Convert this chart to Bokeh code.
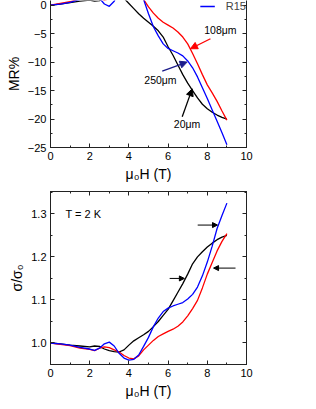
from bokeh.plotting import figure
from bokeh.layouts import column
from bokeh.models import (Range1d, LinearAxis, SingleIntervalTicker, Label, Arrow,
                          NormalHead, Legend, LegendItem, PrintfTickFormatter)
from bokeh.embed import file_html
from bokeh.resources import INLINE

# ---------------- data ----------------
H = [0, 0.5, 1.0, 1.5, 2.0, 2.25, 2.5, 2.75, 3.0, 3.25, 3.5, 3.75, 4.0, 4.25, 4.5, 4.75,
     5.0, 5.25, 5.5, 5.75, 6.0, 6.25, 6.5, 6.75, 7.0, 7.25, 7.5, 7.75, 8.0, 8.25, 8.5, 8.75, 9.0]

# (a) MR%
mr_20um = [0, 0.2, 0.45, 0.7, 0.9, 0.7, 0.8, 1.4, 1.8, 2.0, 2.1, 1.2, 0.3, -0.6, -1.5, -2.3,
           -3.0, -3.7, -4.5, -5.6, -7.3, -8.8, -10.5, -12.2, -13.7, -15.0, -16.3, -17.4, -18.2,
           -18.8, -19.3, -19.7, -20.0]
mr_108um = [0, 0.3, 0.6, 1.2, 1.5, 1.8, 1.2, 0.9, 1.1, 1.6, 2.1, 3.0, 3.6, 3.8, 3.1, 1.0,
            -0.3, -1.4, -2.3, -3.0, -3.5, -4.0, -4.7, -5.6, -6.8, -8.5, -10.3, -12.2, -14.0,
            -15.4, -16.9, -18.6, -20.2]
mr_250um = [0, 0.2, 0.5, 1.0, 1.4, 1.7, 1.2, 0.2, -0.2, 0.7, 2.5, 3.6, 4.2, 3.9, 2.9, 1.0,
            -1.5, -3.8, -5.4, -6.8, -7.6, -8.0, -8.4, -8.9, -9.8, -11.0, -12.6, -14.5, -16.4,
            -18.4, -20.4, -22.4, -24.5]

# (b) sigma / sigma0
sig_20um = [1.000, 0.998, 0.995, 0.993, 0.991, 0.993, 0.992, 0.986, 0.982, 0.980, 0.979, 0.984,
            0.995, 1.005, 1.012, 1.019, 1.027, 1.038, 1.050, 1.064, 1.078, 1.098, 1.118, 1.138,
            1.160, 1.184, 1.200, 1.212, 1.223, 1.232, 1.240, 1.246, 1.250]
sig_108um = [1.000, 0.997, 0.994, 0.988, 0.985, 0.982, 0.988, 0.991, 0.989, 0.984, 0.979, 0.971,
             0.965, 0.963, 0.970, 0.984, 0.995, 1.006, 1.015, 1.021, 1.027, 1.032, 1.039, 1.049,
             1.063, 1.080, 1.099, 1.128, 1.160, 1.187, 1.214, 1.236, 1.254]
sig_250um = [1.000, 0.998, 0.995, 0.990, 0.986, 0.983, 0.988, 0.998, 1.002, 0.993, 0.976, 0.965,
             0.960, 0.962, 0.972, 0.992, 1.013, 1.038, 1.058, 1.073, 1.081, 1.086, 1.090, 1.094,
             1.102, 1.113, 1.130, 1.156, 1.188, 1.225, 1.266, 1.296, 1.325]

series_colors = ["black", "red", "blue"]
legend_label = "R15"

# annotations (a): text, text pos, arrow start, arrow end, color
ann_a = [
    ("108μm", (8.67, -4.3), (8.16, -5.9), (7.14, -7.65), "red"),
    ("250μm", (5.61, -13.2), (5.70, -11.6), (6.97, -10.0), "#1c1c8a"),
    ("20μm", (6.97, -20.8), (6.72, -19.6), (7.23, -14.7), "black"),
]
# arrows (b): start, end
arr_b = [((7.51, 1.274), (8.52, 1.274)),
         ((6.08, 1.150), (6.83, 1.150)),
         ((9.44, 1.174), (8.32, 1.174))]

FONT = "Liberation Sans"
AX = "#222222"


def style_axis(ax, labels=True):
    ax.major_tick_in = 4
    ax.major_tick_out = 0
    ax.minor_tick_in = 2
    ax.minor_tick_out = 0
    ax.axis_line_color = AX
    ax.major_tick_line_color = AX
    ax.minor_tick_line_color = AX
    ax.major_label_text_font = FONT
    ax.major_label_text_font_size = "11px"
    ax.major_label_text_color = "black" if labels else None
    ax.major_label_standoff = 4
    ax.axis_label_text_font = FONT
    ax.axis_label_text_font_size = "14px"
    ax.axis_label_text_font_style = "normal"
    ax.axis_label_text_color = "black"
    ax.axis_label_standoff = 3


# ---------------- panel (a) ----------------
p1 = figure(width=310, height=185, x_range=Range1d(0, 10), y_range=Range1d(-25, 0.82),
            output_backend="svg", toolbar_location=None,
            min_border_left=50, min_border_right=64, min_border_top=0, min_border_bottom=38)
p1.grid.visible = False
p1.outline_line_color = None
p1.background_fill_color = "white"
p1.border_fill_color = "white"
p1.xaxis.ticker = SingleIntervalTicker(interval=2, num_minor_ticks=2)
p1.yaxis.ticker = SingleIntervalTicker(interval=5, num_minor_ticks=2)
p1.xaxis.axis_label = "μ₀H (T)"
p1.yaxis.axis_label = "MR%"
style_axis(p1.xaxis[0])
style_axis(p1.yaxis[0])
ra = LinearAxis(ticker=SingleIntervalTicker(interval=5, num_minor_ticks=2))
style_axis(ra, labels=False)
p1.add_layout(ra, "right")

rs = []
for ys, c in zip([mr_20um, mr_108um, mr_250um], series_colors):
    rs.append(p1.line(H, ys, line_color=c, line_width=1.3))

leg = Legend(items=[LegendItem(label=legend_label, renderers=[rs[2]])],
             location="top_right", margin=0, padding=4, spacing=0,
             glyph_width=15, glyph_height=10, label_height=10, label_standoff=11,
             label_text_font=FONT, label_text_font_size="11px",
             background_fill_alpha=0, border_line_color=None)
p1.add_layout(leg)

for txt, tp, s, e, c in ann_a:
    p1.add_layout(Arrow(x_start=s[0], y_start=s[1], x_end=e[0], y_end=e[1],
                        line_color=c, line_width=1.3,
                        end=NormalHead(size=7, fill_color=c, line_color=c)))
    p1.add_layout(Label(x=tp[0], y=tp[1], text=txt, text_align="center",
                        text_baseline="middle", text_font=FONT, text_font_size="10.5px",
                        text_color="black"))

# ---------------- panel (b) ----------------
p2 = figure(width=310, height=216, x_range=Range1d(0, 10), y_range=Range1d(0.95, 1.352),
            output_backend="svg", toolbar_location=None,
            min_border_left=48, min_border_right=64, min_border_top=6, min_border_bottom=37)
p2.grid.visible = False
p2.outline_line_color = AX
p2.background_fill_color = "white"
p2.border_fill_color = "white"
p2.xaxis.ticker = SingleIntervalTicker(interval=2, num_minor_ticks=2)
p2.yaxis.ticker = SingleIntervalTicker(interval=0.1, num_minor_ticks=2)
p2.yaxis.formatter = PrintfTickFormatter(format="%.1f")
p2.xaxis.axis_label = "μ₀H (T)"
p2.yaxis.axis_label = "σ/σ₀"
style_axis(p2.xaxis[0])
style_axis(p2.yaxis[0])
ta = LinearAxis(ticker=SingleIntervalTicker(interval=2, num_minor_ticks=2))
style_axis(ta, labels=False)
p2.add_layout(ta, "above")
rb = LinearAxis(ticker=SingleIntervalTicker(interval=0.1, num_minor_ticks=2))
style_axis(rb, labels=False)
p2.add_layout(rb, "right")

for ys, c in zip([sig_20um, sig_108um, sig_250um], series_colors):
    p2.line(H, ys, line_color=c, line_width=1.3)

for s, e in arr_b:
    p2.add_layout(Arrow(x_start=s[0], y_start=s[1], x_end=e[0], y_end=e[1],
                        line_color="black", line_width=1,
                        end=NormalHead(size=5, fill_color="black", line_color="black")))

p2.add_layout(Label(x=0.76, y=1.30, text="T = 2 K", text_align="left", text_baseline="middle",
                    text_font=FONT, text_font_size="11px", text_color="black"))
p2.add_layout(Label(x=-1.77, y=1.351, text="(b)", text_align="left", text_baseline="middle",
                    text_font=FONT, text_font_size="12px", text_color="black"))

layout = column(p1, p2, spacing=0)
open("out.html", "w").write(file_html(layout, INLINE))
